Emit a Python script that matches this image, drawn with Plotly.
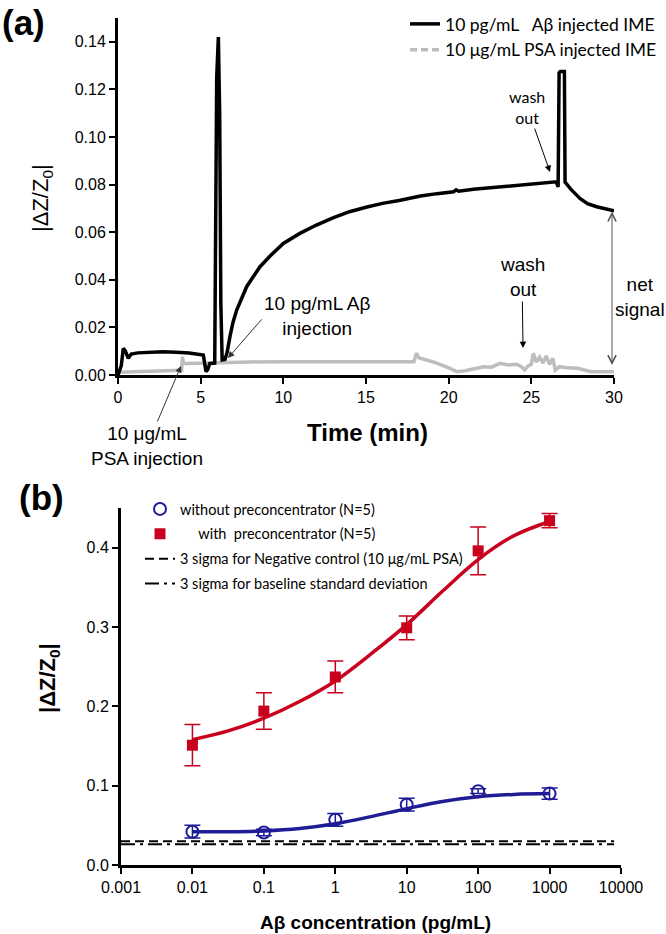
import plotly.graph_objects as go

# ---------------- Panel (a) data ----------------
t_ab = [0, 0.2, 0.32, 0.45, 0.62, 0.8, 1.2, 1.9, 2.7, 3.5, 4.3, 5.16, 5.25, 5.32, 5.42, 5.55,
        5.85, 5.9, 5.97, 6.07, 6.15, 6.22, 6.3, 6.47, 6.6, 6.77, 6.95, 7.18, 7.45, 7.78, 8.15,
        8.59, 9.2, 10.0, 11.0, 12.0, 13.0, 14.0, 15.0, 16.0, 17.0, 18.3, 19.3, 20.3, 20.45,
        20.6, 21.5, 23.1, 24.5, 25.5, 26.5, 26.62, 26.68, 26.75, 27.0, 27.04, 27.1, 27.4,
        27.94, 28.4, 28.95, 29.5, 30.0]
v_ab = [0, 0.004, 0.0112, 0.010, 0.007, 0.0088, 0.0093, 0.0097, 0.0098, 0.0096, 0.0092, 0.0084,
        0.004, 0.0015, 0.0022, 0.0048, 0.005, 0.06, 0.125, 0.142, 0.11, 0.03, 0.0063, 0.0065,
        0.0095, 0.0161, 0.022, 0.0273, 0.032, 0.0371, 0.041, 0.0455, 0.050, 0.0553, 0.0595,
        0.063, 0.066, 0.0686, 0.0705, 0.0721, 0.0733, 0.0752, 0.0762, 0.0770, 0.0778, 0.0772,
        0.0780, 0.0791, 0.0800, 0.0806, 0.0812, 0.079, 0.127, 0.1275, 0.1275, 0.081, 0.0805,
        0.078, 0.0742, 0.072, 0.0707, 0.0697, 0.069]

t_psa = [0, 1, 2, 3, 3.85, 3.9, 3.95, 4.1, 5, 6, 8, 10, 14, 17.9, 18.05, 18.2, 18.5, 19.2,
         20.0, 20.5, 21.0, 21.5, 22.1, 22.6, 23.1, 23.6, 24.1, 24.4, 24.6, 24.8, 25.0, 25.12,
         25.3, 25.5, 25.7, 25.9, 26.1, 26.3, 26.45, 26.7, 27.2, 27.8, 28.2, 28.6, 29.2, 30]
v_psa = [0.0012, 0.0014, 0.0016, 0.0018, 0.002, 0.0077, 0.0050, 0.0048, 0.005, 0.0054, 0.0055,
         0.0056, 0.0056, 0.0056, 0.0091, 0.0072, 0.0066, 0.0052, 0.003, 0.0014, 0.0018, 0.0025,
         0.0035, 0.0033, 0.0049, 0.0042, 0.0045, 0.0035, 0.0021, 0.0038, 0.0045, 0.0091, 0.0055,
         0.0075, 0.0050, 0.0080, 0.0045, 0.0070, 0.0021, 0.0035, 0.0030, 0.0028, 0.0021, 0.0014,
         0.0014, 0.0014]

a_xticks = [0, 5, 10, 15, 20, 25, 30]
a_yticks = [0, 0.02, 0.04, 0.06, 0.08, 0.10, 0.12, 0.14]

# ---------------- Panel (b) data ----------------
conc = [0.01, 0.1, 1, 10, 100, 1000]
with_mean = [0.151, 0.194, 0.237, 0.299, 0.396, 0.434]
with_err = [0.026, 0.023, 0.020, 0.015, 0.030, 0.009]
without_mean = [0.042, 0.041, 0.057, 0.076, 0.093, 0.090]
without_err = [0.008, 0.004, 0.008, 0.008, 0.003, 0.007]

fit_x = [0.01, 0.0316, 0.1, 0.316, 1, 3.16, 10, 31.6, 100, 316, 1000]
fit_with = [0.158, 0.169, 0.185, 0.206, 0.232, 0.266, 0.303, 0.345, 0.385, 0.415, 0.433]
fit_without = [0.042, 0.042, 0.043, 0.046, 0.052, 0.061, 0.071, 0.080, 0.086, 0.089, 0.090]

neg_ctrl_x = [0.001, 8000]
neg_ctrl_y = [0.030, 0.030]
baseline_x = [0.001, 8000]
baseline_y = [0.026, 0.026]

b_xticks = [0.001, 0.01, 0.1, 1, 10, 100, 1000, 10000]
b_xticklabels = ["0.001", "0.01", "0.1", "1", "10", "100", "1000", "10000"]
b_yticks = [0, 0.1, 0.2, 0.3, 0.4]

RED = "#c8001e"
BLUE = "#1f1c96"
GRAY = "#bdbdbd"
ARIAL = "Liberation Sans"
CAL = "Lato"

W, H = 666, 934
def px(x):
    return x / W
def py(y):
    return 1 - y / H

# panel (a) plot box in pixels and data range
A_L, A_R, A_B, A_T = 118, 614, 375, 18
A_XR, A_YR = [0, 30], [0, 0.15]
def a_t(pxl):
    return A_XR[0] + (pxl - A_L) / (A_R - A_L) * (A_XR[1] - A_XR[0])
def a_v(pyl):
    return A_YR[0] + (A_B - pyl) / (A_B - A_T) * (A_YR[1] - A_YR[0])

fig = go.Figure()

# Panel (a)
fig.add_trace(go.Scatter(x=t_psa, y=v_psa, mode="lines", line=dict(color=GRAY, width=3.5),
                         showlegend=False, xaxis="x", yaxis="y"))
fig.add_trace(go.Scatter(x=t_ab, y=v_ab, mode="lines", line=dict(color="black", width=3.5),
                         name="10 pg/mL\u00a0\u00a0 A\u03b2 injected IME", legend="legend",
                         xaxis="x", yaxis="y"))
fig.add_trace(go.Scatter(x=[None], y=[None], mode="lines",
                         line=dict(color=GRAY, width=3.5, dash="7px,4px"),
                         name="10 \u03bcg/mL PSA injected IME", legend="legend",
                         xaxis="x", yaxis="y"))

# Panel (b)
fig.add_trace(go.Scatter(x=fit_x, y=fit_without, mode="lines", line=dict(color=BLUE, width=3.5, shape="spline"),
                         showlegend=False, xaxis="x2", yaxis="y2"))
fig.add_trace(go.Scatter(x=fit_x, y=fit_with, mode="lines", line=dict(color=RED, width=3.5, shape="spline"),
                         showlegend=False, xaxis="x2", yaxis="y2"))
fig.add_trace(go.Scatter(x=conc, y=without_mean, mode="markers",
                         marker=dict(symbol="circle-open", size=12, color=BLUE, line=dict(width=2)),
                         error_y=dict(type="data", array=without_err, color=BLUE, thickness=1.5, width=8),
                         name="without preconcentrator (N=5)", legend="legend2", legendgroup="g1",
                         xaxis="x2", yaxis="y2"))
fig.add_trace(go.Scatter(x=conc, y=with_mean, mode="markers",
                         marker=dict(symbol="square", size=11, color=RED),
                         error_y=dict(type="data", array=with_err, color=RED, thickness=1.5, width=8),
                         name="\u00a0\u00a0\u00a0\u00a0 with\u00a0 preconcentrator (N=5)", legend="legend2",
                         legendgroup="g2", xaxis="x2", yaxis="y2"))
fig.add_trace(go.Scatter(x=neg_ctrl_x, y=neg_ctrl_y, mode="lines",
                         line=dict(color="black", width=2, dash="9px,5px"),
                         name="3 sigma for Negative control (10 \u03bcg/mL PSA)", legend="legend2",
                         legendgroup="g3", xaxis="x2", yaxis="y2"))
fig.add_trace(go.Scatter(x=baseline_x, y=baseline_y, mode="lines",
                         line=dict(color="black", width=2, dash="14px,5px,3px,5px"),
                         name="3 sigma for baseline standard deviation", legend="legend2",
                         legendgroup="g4", xaxis="x2", yaxis="y2"))

axis_common = dict(showgrid=False, zeroline=False, showline=True, linecolor="black", linewidth=3,
                   ticks="outside", ticklen=6, tickwidth=2, tickcolor="black", automargin=False,
                   tickfont=dict(family=ARIAL, size=16, color="black"))

anns = []
def arrow(x, y, ax, ay, color="black", head=2, side="end", width=1, size=1.2):
    anns.append(dict(x=x, y=y, ax=ax, ay=ay, xref="x", yref="y", axref="x", ayref="y", text="",
                     showarrow=True, arrowhead=head, arrowside=side, arrowcolor=color,
                     arrowwidth=width, arrowsize=size, startarrowhead=head, startarrowsize=size))
def label(x, y, text, size=19, family=ARIAL, bold=False, angle=0):
    anns.append(dict(x=px(x), y=py(y), xref="paper", yref="paper", text=("<b>%s</b>" % text) if bold else text,
                     showarrow=False, textangle=angle, xanchor="center", yanchor="middle",
                     font=dict(family=family, size=size, color="black")))
def pointer(x, y, tx, ty, text, size=19, family=ARIAL, color="black"):
    # text centred at pixel (tx, ty) of the figure; arrow head at data point (x, y)
    anns.append(dict(x=x, y=y, xref="x", yref="y", ax=a_t(tx), ay=a_v(ty), axref="x", ayref="y",
                     text=text, showarrow=True, arrowhead=2, arrowsize=1.3, arrowwidth=1,
                     arrowcolor=color, font=dict(family=family, size=size, color="black")))

# panel (a) arrows with their labels
pointer(26.13, 0.0853, 527, 107, "wash<br>out", size=16, family=CAL)
pointer(24.5, 0.0113, 522, 277, "wash<br>out")
pointer(3.81, 0.0038, 147, 446, "10 \u03bcg/mL<br>PSA injection", color="#333333")
arrow(29.88, 0.0042, 29.88, 0.0693, color="#555555", head=5, side="end+start", size=1.6)
arrow(6.65, 0.0071, 8.77, 0.024, color="#333333", head=2, size=1.3)

# panel (a) text
label(640, 297, "net<br>signal")
label(317, 316, "10 pg/mL A\u03b2<br>injection")
label(367, 433, "Time (min)", size=24, bold=True)
label(42, 198, "|\u0394Z/Z<sub>0</sub>|", size=22, angle=-90)
label(23, 23, "(a)", size=35, bold=True)

# panel (b) text
label(375, 922, "A\u03b2 concentration (pg/mL)", size=19, bold=True)
label(49, 678, "|\u0394Z/Z<sub>0</sub>|", size=22, bold=True, angle=-90)
label(41, 497, "(b)", size=35, bold=True)

fig.update_layout(
    width=W, height=H, margin=dict(l=0, r=0, t=0, b=0, autoexpand=False),
    paper_bgcolor="white", plot_bgcolor="white",
    xaxis=dict(axis_common, domain=[px(A_L), px(A_R)], range=A_XR, tickvals=a_xticks, anchor="y"),
    yaxis=dict(axis_common, domain=[py(A_B), py(A_T)], range=A_YR, tickvals=a_yticks,
               tickformat=".2f", anchor="x"),
    xaxis2=dict(axis_common, domain=[px(121), px(621)], type="log", range=[-3, 4],
                tickvals=b_xticks, ticktext=b_xticklabels, anchor="y2"),
    yaxis2=dict(axis_common, domain=[py(865), py(508)], range=[0, 0.45], tickvals=b_yticks,
                tickformat=".1f", anchor="x2"),
    legend=dict(x=px(405), y=py(6), xanchor="left", yanchor="top", bgcolor="rgba(0,0,0,0)",
                font=dict(family=CAL, size=17.5, color="black"), tracegroupgap=0),
    legend2=dict(x=px(140), y=py(493), xanchor="left", yanchor="top", bgcolor="rgba(0,0,0,0)",
                 font=dict(family=CAL, size=14.5, color="black"), traceorder="grouped", tracegroupgap=3),
    annotations=anns,
    showlegend=True,
)

fig.write_html("out.html", config={"displayModeBar": False},
               post_script="document.body.style.margin='0';")
